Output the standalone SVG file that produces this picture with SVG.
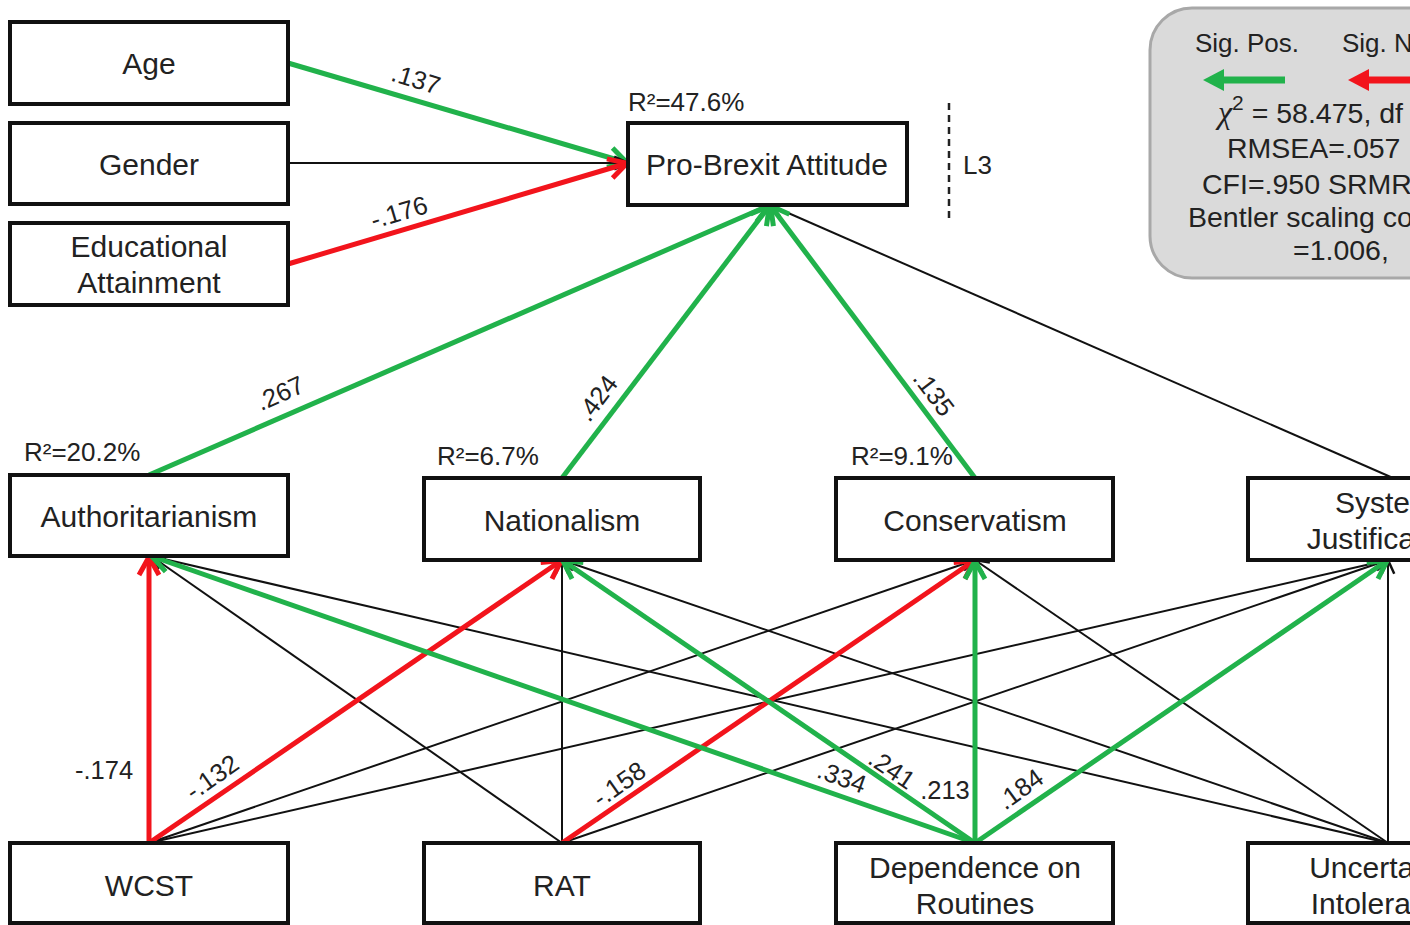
<svg xmlns="http://www.w3.org/2000/svg" width="1410" height="925" viewBox="0 0 1410 925">
<style>
.box{fill:#fff;stroke:#111;stroke-width:4}
.lbl{font-family:"Liberation Sans",Arial,sans-serif;font-size:30px;fill:#222;text-anchor:middle}
.coef{font-family:"Liberation Sans",Arial,sans-serif;font-size:25.5px;fill:#222;text-anchor:middle}
.r2{font-family:"Liberation Sans",Arial,sans-serif;font-size:26px;fill:#222}
.leg{font-family:"Liberation Sans",Arial,sans-serif;font-size:26px;fill:#222}
.stat{font-family:"Liberation Sans",Arial,sans-serif;font-size:28.5px;fill:#222}
.g{stroke:#21b24b;stroke-width:5;fill:none}
.r{stroke:#f2141c;stroke-width:5;fill:none}
.k{stroke:#111;stroke-width:2;fill:none}
</style>
<defs>
<marker id="mG" markerUnits="userSpaceOnUse" markerWidth="30" markerHeight="30" viewBox="-26 -15 30 30" refX="0" refY="0" orient="auto" overflow="visible"><path d="M-19,-10 L-1,0 L-19,10" fill="none" stroke="#21b24b" stroke-width="5"/></marker>
<marker id="mR" markerUnits="userSpaceOnUse" markerWidth="30" markerHeight="30" viewBox="-26 -15 30 30" refX="0" refY="0" orient="auto" overflow="visible"><path d="M-19,-10 L-1,0 L-19,10" fill="none" stroke="#f2141c" stroke-width="5"/></marker>
<marker id="mK" markerUnits="userSpaceOnUse" markerWidth="20" markerHeight="20" viewBox="-14 -8 16 16" refX="0" refY="0" orient="auto" overflow="visible"><path d="M-11,-5 L0,0 L-11,5" fill="none" stroke="#111" stroke-width="2"/></marker>
</defs>
<rect width="1410" height="925" fill="#fff"/>

<g id="connectors">
<line class="g" x1="288" y1="63" x2="628" y2="163" marker-end="url(#mG)"/>
<line class="k" x1="288" y1="163" x2="628" y2="163" marker-end="url(#mK)"/>
<line class="r" x1="288" y1="264" x2="628" y2="163" marker-end="url(#mR)"/>
<line class="k" x1="1393" y1="478" x2="770" y2="205" marker-end="url(#mK)"/>
<line class="g" x1="149" y1="475" x2="770" y2="205" marker-end="url(#mG)"/>
<line class="g" x1="562" y1="478" x2="770" y2="205" marker-end="url(#mG)"/>
<line class="g" x1="975" y1="478" x2="770" y2="205" marker-end="url(#mG)"/>

<line class="k" x1="149" y1="843" x2="975" y2="560" marker-end="url(#mK)"/>
<line class="k" x1="149" y1="843" x2="1388" y2="560" marker-end="url(#mK)"/>
<line class="k" x1="562" y1="843" x2="151" y2="556" marker-end="url(#mK)"/>
<line class="k" x1="562" y1="843" x2="562" y2="560" marker-end="url(#mK)"/>
<line class="k" x1="562" y1="843" x2="1388" y2="560" marker-end="url(#mK)"/>
<line class="k" x1="1388" y1="843" x2="151" y2="556" marker-end="url(#mK)"/>
<line class="k" x1="1388" y1="843" x2="562" y2="560" marker-end="url(#mK)"/>
<line class="k" x1="1388" y1="843" x2="975" y2="560" marker-end="url(#mK)"/>
<line class="k" x1="1388" y1="843" x2="1388" y2="560" marker-end="url(#mK)"/>

<line class="r" x1="149" y1="843" x2="149" y2="556" marker-end="url(#mR)"/>
<line class="r" x1="149" y1="843" x2="562" y2="560" marker-end="url(#mR)"/>
<line class="r" x1="562" y1="843" x2="975" y2="560" marker-end="url(#mR)"/>
<line class="g" x1="975" y1="843" x2="151" y2="556" marker-end="url(#mG)"/>
<line class="g" x1="975" y1="843" x2="562" y2="560" marker-end="url(#mG)"/>
<line class="g" x1="975" y1="843" x2="975" y2="560" marker-end="url(#mG)"/>
<line class="g" x1="975" y1="843" x2="1388" y2="560" marker-end="url(#mG)"/>

<text class="coef" x="416" y="88" transform="rotate(17 416 79)">.137</text>
<text class="coef" x="399" y="221" transform="rotate(-16.5 399 212)">-.176</text>
<text class="coef" x="280" y="402" transform="rotate(-24 280 393)">.267</text>
<text class="coef" x="597" y="407" transform="rotate(-53 597 398)">.424</text>
<text class="coef" x="934" y="402" transform="rotate(53 934 393)">.135</text>
<text class="coef" x="104" y="779">-.174</text>
<text class="coef" x="212" y="786" transform="rotate(-35 212 777)">-.132</text>
<text class="coef" x="619" y="793" transform="rotate(-35 619 784)">-.158</text>
<text class="coef" x="842" y="786" transform="rotate(20 842 777)">.334</text>
<text class="coef" x="892" y="778" transform="rotate(34 892 769)">.241</text>
<text class="coef" x="945" y="799">.213</text>
<text class="coef" x="1020" y="798" transform="rotate(-36 1020 789)">.184</text>
</g>

<line x1="949" y1="103" x2="949" y2="222" stroke="#222" stroke-width="2.5" stroke-dasharray="7,5"/>
<text class="r2" x="963" y="174">L3</text>

<g id="age"><rect class="box" x="10" y="22" width="278" height="82"/><text class="lbl" x="149" y="74">Age</text></g>
<g id="gender"><rect class="box" x="10" y="123" width="278" height="81"/><text class="lbl" x="149" y="175">Gender</text></g>
<g id="education"><rect class="box" x="10" y="223" width="278" height="82"/><text class="lbl" x="149" y="257">Educational</text><text class="lbl" x="149" y="293">Attainment</text></g>
<g id="probrexit"><rect class="box" x="628" y="123" width="279" height="82"/><text class="lbl" x="767" y="175">Pro-Brexit Attitude</text><text class="r2" x="628" y="111">R²=47.6%</text></g>
<g id="authoritarianism"><rect class="box" x="10" y="475" width="278" height="81"/><text class="lbl" x="149" y="527">Authoritarianism</text><text class="r2" x="24" y="461">R²=20.2%</text></g>
<g id="nationalism"><rect class="box" x="424" y="478" width="276" height="82"/><text class="lbl" x="562" y="531">Nationalism</text><text class="r2" x="437" y="465">R²=6.7%</text></g>
<g id="conservatism"><rect class="box" x="836" y="478" width="277" height="82"/><text class="lbl" x="975" y="531">Conservatism</text><text class="r2" x="851" y="465">R²=9.1%</text></g>
<g id="systemjust"><rect class="box" x="1248" y="478" width="278" height="82"/><text class="lbl" x="1385" y="513">System</text><text class="lbl" x="1385" y="549">Justification</text></g>
<g id="wcst"><rect class="box" x="10" y="843" width="278" height="80"/><text class="lbl" x="149" y="896">WCST</text></g>
<g id="rat"><rect class="box" x="424" y="843" width="276" height="80"/><text class="lbl" x="562" y="896">RAT</text></g>
<g id="dependence"><rect class="box" x="836" y="843" width="277" height="80"/><text class="lbl" x="975" y="878">Dependence on</text><text class="lbl" x="975" y="914">Routines</text></g>
<g id="uncertainty"><rect class="box" x="1248" y="843" width="278" height="80"/><text class="lbl" x="1385" y="878">Uncertainty</text><text class="lbl" x="1385" y="914">Intolerance</text></g>

<g id="legend">
<rect x="1150" y="8" width="420" height="270" rx="42" fill="#dadada" stroke="#a8a8a8" stroke-width="3"/>
<text class="leg" x="1195" y="52">Sig. Pos.</text>
<text class="leg" x="1342" y="52">Sig. Neg.</text>
<line x1="1285" y1="80" x2="1218" y2="80" stroke="#21b24b" stroke-width="7"/>
<path d="M1203,80 L1224,69 L1224,91 Z" fill="#21b24b"/>
<line x1="1430" y1="80" x2="1363" y2="80" stroke="#f2141c" stroke-width="7"/>
<path d="M1348,80 L1369,69 L1369,91 Z" fill="#f2141c"/>
<text class="stat" x="1218" y="123"><tspan style="font-style:italic;font-family:'Liberation Serif',serif;font-size:32px">χ</tspan><tspan dy="-13" style="font-size:21px">2</tspan><tspan dy="13"> = 58.475, df</tspan></text>
<text class="stat" x="1227" y="158">RMSEA=.057</text>
<text class="stat" x="1202" y="194">CFI=.950 SRMR</text>
<text class="stat" x="1188" y="227">Bentler scaling correction</text>
<text class="stat" x="1293" y="260">=1.006,</text>
</g>
</svg>
